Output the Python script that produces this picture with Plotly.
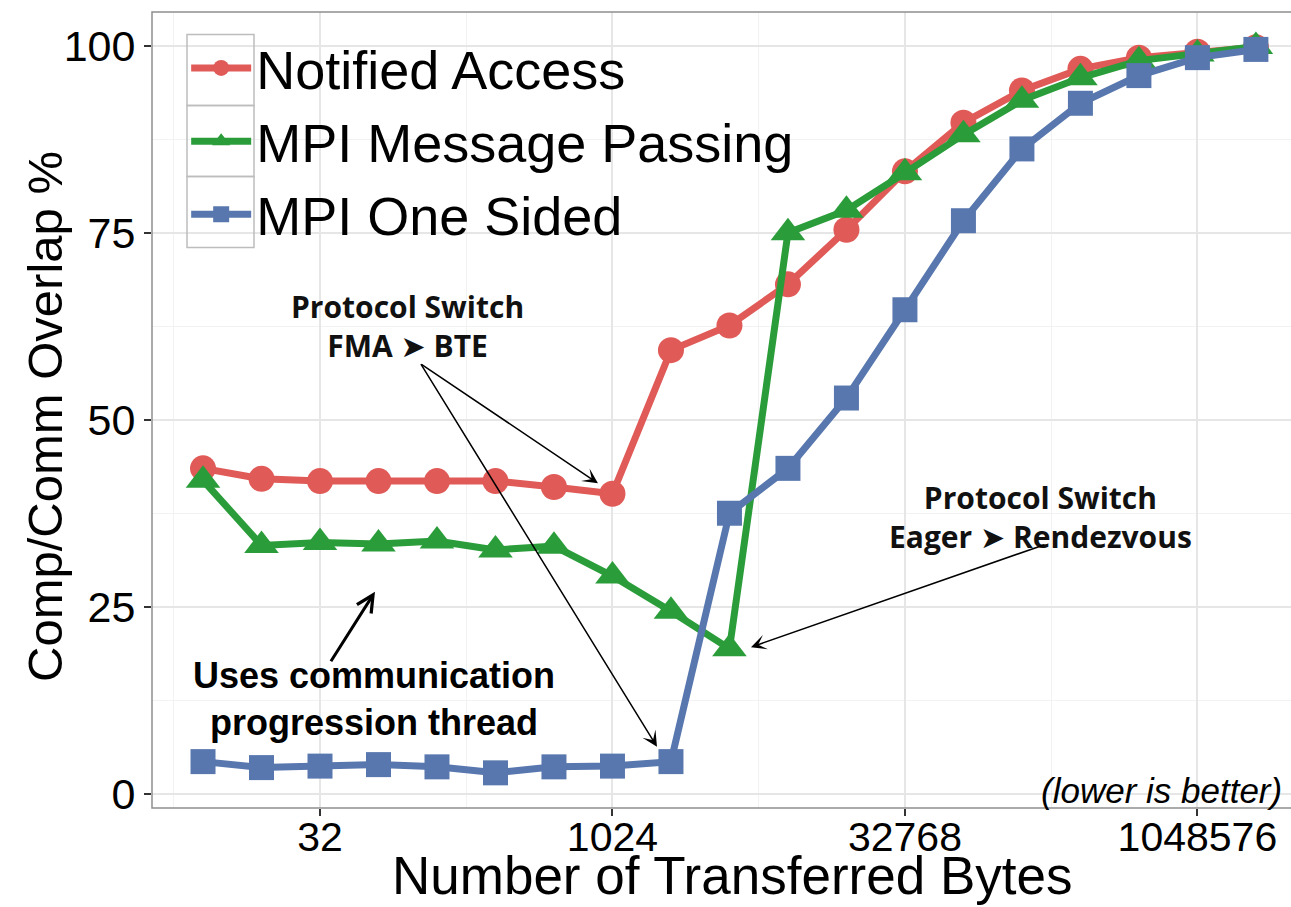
import plotly.graph_objects as go
import numpy as np

# transferred message sizes (bytes)
msg_bytes = [8, 16, 32, 64, 128, 256, 512, 1024, 2048, 4096, 8192, 16384,
             32768, 65536, 131072, 262144, 524288, 1048576, 2097152]

notified_access = [43.5, 42.1, 41.8, 41.8, 41.8, 41.8, 41.0, 40.1, 59.3, 62.6,
                   68.1, 75.4, 83.2, 89.7, 94.0, 96.9, 98.4, 99.2, 99.8]
mpi_msg_passing = [41.9, 33.2, 33.6, 33.4, 33.8, 32.6, 33.1, 29.1, 24.4, 19.4,
                   75.0, 78.0, 83.0, 88.1, 92.7, 95.7, 98.0, 98.9, 99.9]
mpi_one_sided = [4.3, 3.5, 3.7, 3.9, 3.6, 2.8, 3.6, 3.7, 4.3, 37.5,
                 43.5, 52.9, 64.7, 76.6, 86.2, 92.3, 96.0, 98.4, 99.5]

x_ticks = [32, 1024, 32768, 1048576]
y_ticks = [0, 25, 50, 75, 100]

series = [
    ("Notified Access", notified_access, "#E05A57", "circle", 26),
    ("MPI Message Passing", mpi_msg_passing, "#2A9D3A", "triangle-up", 30),
    ("MPI One Sided", mpi_one_sided, "#5877AE", "square", 25),
]

FONT = "Liberation Sans, Arial, sans-serif"
W, H = 1291, 907
ML, MR, MT, MB = 152, 0, 12, 99

fig = go.Figure()
for name, vals, col, sym, sz in series:
    fig.add_trace(go.Scatter(
        x=msg_bytes, y=vals, name=name, mode="lines+markers",
        line=dict(color=col, width=7),
        marker=dict(color=col, symbol=sym, size=sz, line=dict(width=0)),
    ))

lg2 = np.log10(2)


def px_to_paper(px, py):
    return (px - ML) / (W - ML - MR), (H - MB - py) / (H - MT - MB)


shapes = []
# panel border (right side runs off the picture like the original)
shapes.append(dict(type="rect", xref="paper", yref="paper", x0=0, x1=1.02,
                   y0=0, y1=1, line=dict(color="#8E8E8E", width=1.5),
                   layer="above"))
# legend key boxes
ROW = 71
for i in range(3):
    c = 70 + ROW * i
    x0, y0 = px_to_paper(187, c + ROW / 2)
    x1, y1 = px_to_paper(254, c - ROW / 2)
    shapes.append(dict(type="rect", xref="paper", yref="paper", x0=x0, x1=x1,
                       y0=y0, y1=y1, line=dict(color="#BDBDBD", width=1.5),
                       layer="above"))

ann_font = dict(family="Open Sans, DejaVu Sans, sans-serif", size=30,
                color="#111111", weight="bold")
tx, ty = px_to_paper(732, 875)
lx, ly = px_to_paper(45, 417)
annotations = [
    dict(x=6.5 * lg2, y=62.5, text="Protocol Switch<br>FMA \u27a4 BTE",
         showarrow=False, font=ann_font, xref="x", yref="y"),
    dict(x=17.31 * lg2, y=37.0, text="Protocol Switch<br>Eager \u27a4 Rendezvous",
         showarrow=False, font=ann_font, xref="x", yref="y"),
    dict(x=5.92 * lg2, y=12.7, text="Uses communication<br>progression thread",
         showarrow=False, xref="x", yref="y",
         font=dict(family=FONT, size=36, color="black", weight="bold")),
    dict(x=1, y=0.5, xref="paper", yref="y", xanchor="right", xshift=-7,
         text="<i>(lower is better)</i>", showarrow=False,
         font=dict(family=FONT, size=35, color="black")),
    # axis titles
    dict(x=tx, y=ty, xref="paper", yref="paper", xanchor="center",
         yanchor="middle", text="Number of Transferred Bytes",
         showarrow=False, font=dict(family=FONT, size=53, color="black")),
    dict(x=lx, y=ly, xref="paper", yref="paper", xanchor="center",
         yanchor="middle", text="Comp/Comm Overlap %",
         showarrow=False, textangle=-90,
         font=dict(family=FONT, size=49, color="black")),
]

# arrows: head in data coords, tail as pixel offset
arrows = [
    (9.752, 41.5, -178, -120, 3, 1.5, 1.7),
    (10.761, 6.3, -237, -384, 3, 1.5, 1.7),
    (12.368, 19.6, 295, -103, 3, 1.5, 1.7),
    (5.94, 27.0, -45, 71, 5, 3, 1.1),
]
for hx, hy, ax, ay, head, wdt, hsz in arrows:
    annotations.append(dict(
        x=hx * lg2, y=hy, xref="x", yref="y", ax=ax, ay=ay,
        text="", showarrow=True, arrowhead=head, arrowwidth=wdt,
        arrowsize=hsz, arrowcolor="black", standoff=0,
    ))

fig.update_layout(
    width=W, height=H,
    margin=dict(l=ML, r=MR, t=MT, b=MB, autoexpand=False),
    paper_bgcolor="white", plot_bgcolor="white",
    font=dict(family=FONT, color="black"),
    shapes=shapes, annotations=annotations,
    legend=dict(x=0.030, y=0.982, xanchor="left", yanchor="top",
                font=dict(size=54, family=FONT, color="black"),
                bgcolor="rgba(0,0,0,0)", itemsizing="trace",
                itemwidth=60, tracegroupgap=0),
)
fig.update_xaxes(
    type="log", range=[2.128 * lg2, 21.6 * lg2], automargin=False,
    tickvals=x_ticks, ticktext=[str(v) for v in x_ticks],
    tickfont=dict(size=41), ticks="outside", ticklen=7, tickwidth=1.5,
    tickcolor="#333333", ticklabelstandoff=-14,
    showgrid=True, gridcolor="#E6E6E6", gridwidth=1.5,
    minor=dict(tickvals=[2 ** 2.5, 2 ** 7.5, 2 ** 12.5, 2 ** 17.5],
               showgrid=True, gridcolor="#F2F2F2", gridwidth=1),
    zeroline=False, showline=False,
)
fig.update_yaxes(
    range=[-1.9, 104.5], tickvals=y_ticks, automargin=False,
    tickfont=dict(size=43), ticks="outside", ticklen=7, tickwidth=1.5,
    tickcolor="#333333", showgrid=True, gridcolor="#E6E6E6", gridwidth=1.5,
    minor=dict(tickvals=[12.5, 37.5, 62.5, 87.5],
               showgrid=True, gridcolor="#F2F2F2", gridwidth=1),
    zeroline=False, showline=False,
)

# drop the default page margin so the figure sits at the window corner
fig.write_html("out.html", config={"displayModeBar": False},
               post_script="document.body.style.margin='0';")
